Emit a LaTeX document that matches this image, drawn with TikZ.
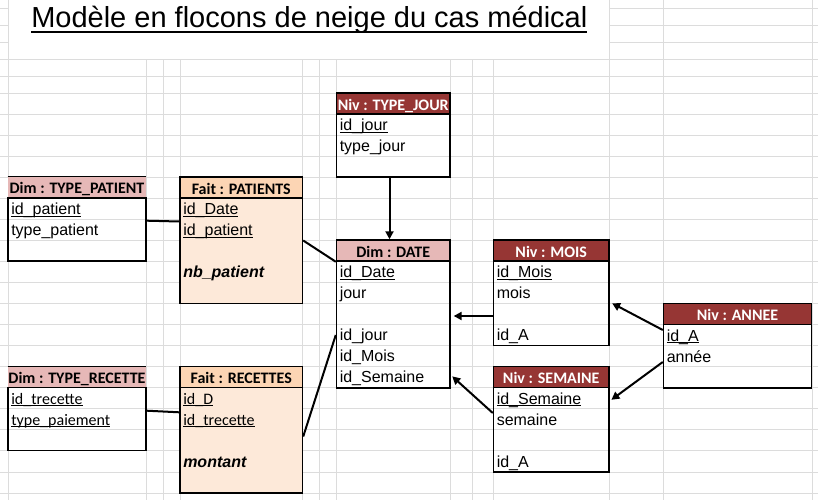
\documentclass[tikz,border=0pt]{standalone}
\usepackage{fontspec}
\setmainfont{Liberation Sans}
\newfontfamily\calib{Carlito}
\usetikzlibrary{arrows.meta,fit}
\definecolor{gridc}{RGB}{220,220,220}
\definecolor{dimc}{RGB}{230,184,183}
\definecolor{faitH}{RGB}{252,213,180}
\definecolor{faitB}{RGB}{253,233,217}
\definecolor{nivc}{RGB}{150,54,52}
\newcommand\ulx[1]{\setbox0\hbox{#1}\rlap{\rule[-1.7pt]{\wd0}{0.7pt}}\box0}
\newcommand\ulttl[1]{\setbox0\hbox{#1}\rlap{\rule[-4.2pt]{\wd0}{1.5pt}}\box0}
\begin{document}
\begin{tikzpicture}[x=0.75pt,y=-0.75pt,
  gridl/.style={draw=gridc,line width=0.6pt},
  boxl/.style={draw=black,line width=1.1pt},
  hfill/.style={inner sep=0pt,fill=#1},
  hbox/.style={inner sep=0pt,fill=#1,boxl},
  bbox/.style={inner sep=0pt,boxl},
  htxt/.style={anchor=base,inner sep=0pt,font=\calib\bfseries\fontsize{12}{14}\selectfont},
  ntxt/.style={htxt,text=white},
  rtxt/.style={anchor=base west,inner sep=0pt,font=\fontsize{12}{14}\selectfont},
  ctxt/.style={anchor=base west,inner sep=0pt,font=\calib\fontsize{12}{14}\selectfont},
  mtxt/.style={anchor=base west,inner sep=0pt,font=\bfseries\itshape\fontsize{12}{14}\selectfont},
  conn/.style={line width=1.5pt},
  arr/.style={line width=1.5pt,-{Triangle[length=6pt,width=6pt]}}]
\useasboundingbox (0,0) rectangle (818,500);
\fill[white] (0,0) rectangle (818,500);
% spreadsheet grid
\foreach \x in {146,163,180,302.5,319,336.5,450,472,493.5}
  \draw[gridl] (\x,59) -- (\x,500);
\foreach \x in {8,609,663.5,812}
  \draw[gridl] (\x,0) -- (\x,500);
\foreach \y in {8.5,25,42}{
  \draw[gridl] (0,\y) -- (8,\y);
  \draw[gridl] (609,\y) -- (818,\y);}
\foreach \y in {59,76,93,114,135,156,177,198,219,240,261,282,303.5,324.5,345.5,366.5,387.5,408.5,429.5,450.5,472,493}
  \draw[gridl] (0,\y) -- (818,\y);
% title
\node[anchor=base west,inner sep=0pt,font=\fontsize{21.75}{24}\selectfont] (title) at (31,27) {\ulttl{Modèle en flocons de neige du cas médical}};
% Dim : TYPE_PATIENT
\node[hfill=dimc,fit={(8,177) (146,198)}] (tpH) {};
\draw[boxl] (tpH.north west) -- (tpH.north east);
\node[bbox,fit={(8,198) (146,261)}] (tpB) {};
\node[htxt] (tpT) at ([yshift=3.4pt]tpH.south) {Dim : TYPE\_PATIENT};
\node[rtxt] (tp1) at (11,214.5) {\ulx{id\_patient}};
\node[rtxt] (tp2) at (11,235.5) {type\_patient};
% Fait : PATIENTS
\node[hbox=faitH,fit={(180,177) (302.5,198)}] (paH) {};
\node[hbox=faitB,fit={(180,198) (302.5,303.5)}] (paB) {};
\node[htxt] (paT) at ([yshift=3.4pt]paH.south) {Fait : PATIENTS};
\node[rtxt] (pa1) at (183,214.5) {\ulx{id\_Date}};
\node[rtxt] (pa2) at (183,235.5) {\ulx{id\_patient}};
\node[mtxt] (pa3) at (183,277.5) {nb\_patient};
% Niv : TYPE_JOUR
\node[hbox=nivc,fit={(336.5,93) (450,114)}] (tjH) {};
\node[bbox,fit={(336.5,114) (450,177)}] (tjB) {};
\node[ntxt] (tjT) at ([yshift=3.4pt]tjH.south) {Niv : TYPE\_JOUR};
\node[rtxt] (tj1) at (339.5,130.5) {\ulx{id\_jour}};
\node[rtxt] (tj2) at (339.5,151.5) {type\_jour};
% Dim : DATE
\node[hbox=dimc,fit={(336.5,240) (450,261)}] (dateH) {};
\node[bbox,fit={(336.5,261) (450,388)}] (dateB) {};
\node[htxt] (dateT) at ([yshift=3.4pt]dateH.south) {Dim : DATE};
\node[rtxt] (d1) at (339.5,277.5) {\ulx{id\_Date}};
\node[rtxt] (d2) at (339.5,298.5) {jour};
\node[rtxt] (d3) at (339.5,340.5) {id\_jour};
\node[rtxt] (d4) at (339.5,361.5) {id\_Mois};
\node[rtxt] (d5) at (339.5,382.5) {id\_Semaine};
% Niv : MOIS
\node[hbox=nivc,fit={(493.5,240) (609,261)}] (moisH) {};
\node[bbox,fit={(493.5,261) (609,345.5)}] (moisB) {};
\node[ntxt] (moisT) at ([yshift=3.4pt]moisH.south) {Niv : MOIS};
\node[rtxt] (m1) at (496.5,277.5) {\ulx{id\_Mois}};
\node[rtxt] (m2) at (496.5,298.5) {mois};
\node[rtxt] (m3) at (496.5,340.5) {id\_A};
% Niv : ANNEE
\node[hbox=nivc,fit={(663.5,303.5) (811.5,324.5)}] (anH) {};
\node[bbox,fit={(663.5,324.5) (811.5,388)}] (anB) {};
\node[ntxt] (anT) at ([yshift=3.4pt]anH.south) {Niv : ANNEE};
\node[rtxt] (a1) at (666.5,341) {\ulx{id\_A}};
\node[rtxt] (a2) at (666.5,362) {année};
% Niv : SEMAINE
\node[hbox=nivc,fit={(493.5,366.5) (609,387.5)}] (semH) {};
\node[bbox,fit={(493.5,387.5) (609,472)}] (semB) {};
\node[ntxt] (semT) at ([yshift=3.4pt]semH.south) {Niv : SEMAINE};
\node[rtxt] (s1) at (496.5,404) {\ulx{id\_Semaine}};
\node[rtxt] (s2) at (496.5,425) {semaine};
\node[rtxt] (s3) at (496.5,467) {id\_A};
% Dim : TYPE_RECETTE
\node[hfill=dimc,fit={(8,366.5) (146,387.5)}] (trH) {};
\draw[boxl] (trH.north west) -- (trH.north east);
\node[bbox,fit={(8,387.5) (146,450.5)}] (trB) {};
\node[htxt] (trT) at ([yshift=3.4pt]trH.south) {Dim : TYPE\_RECETTE};
\node[ctxt] (tr1) at (11,404) {\ulx{id\_trecette}};
\node[ctxt] (tr2) at (11,425) {\ulx{type\_paiement}};
% Fait : RECETTES
\node[hbox=faitH,fit={(180,366.5) (302.5,387.5)}] (reH) {};
\node[hbox=faitB,fit={(180,387.5) (302.5,493)}] (reB) {};
\node[htxt] (reT) at ([yshift=3.4pt]reH.south) {Fait : RECETTES};
\node[ctxt] (re1) at (183,404) {\ulx{id\_D}};
\node[ctxt] (re2) at (183,425) {\ulx{id\_trecette}};
\node[mtxt] (re3) at (183,467) {montant};
% connectors
\draw[conn] (tpB.east |- 0,220.7) -- (paB.west |- 0,221.5);
\draw[conn] (trB.east |- 0,410.7) -- (reB.west |- 0,412.3);
\draw[conn] (paB.east |- 0,240.5) -- (dateH.south west);
\draw[conn] (reB.east |- 0,436.5) -- (dateB.west |- 0,335);
\draw[arr] (tjB.south -| 389.5,0) -- (dateH.north -| 389.5,0);
\draw[arr,shorten >=2.2pt] (moisB.west |- 0,316) -- (dateB.east |- 0,316);
\draw[arr,shorten >=1.5pt] (semB.west |- 0,413) -- (dateB.east |- 0,375);
\draw[arr,shorten >=2pt] (anB.west |- 0,330) -- (moisB.east |- 0,302);
\draw[arr,shorten >=1.5pt] (anB.west |- 0,362) -- (semB.east |- 0,401);
\end{tikzpicture}
\end{document}
